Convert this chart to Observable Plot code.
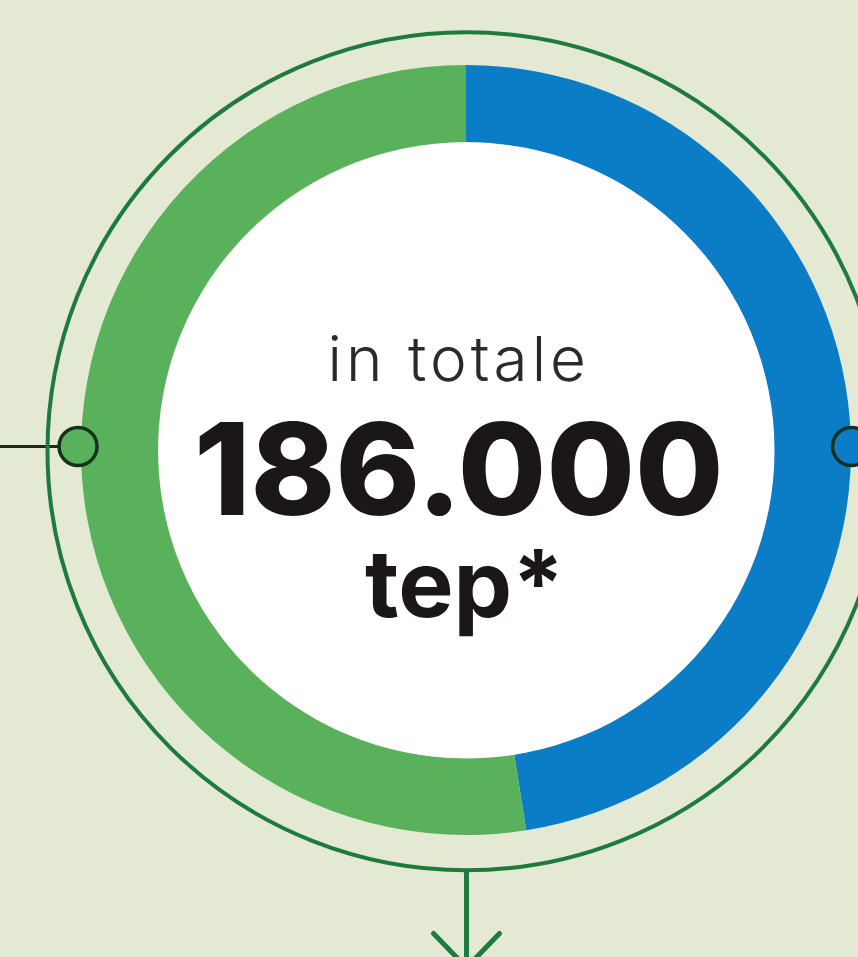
<!DOCTYPE html>
<html>
<head>
<meta charset="utf-8">
<script src="https://cdn.jsdelivr.net/npm/d3@7"></script>
<script src="https://cdn.jsdelivr.net/npm/@observablehq/plot@0.6"></script>
<style>
  html, body { margin: 0; padding: 0; background: #e4e9d3; }
  #chart svg { display: block; }
</style>
</head>
<body>
<div id="chart"></div>
<script>
// ---- data ----
const categories = ["blu", "verde"];
const values = [88350, 97650];           // tep (share of the total)
const colors = ["#0b7cc6", "#59b25b"];
const totalLabel = ["in totale", "186.000", "tep*"];

// ---- layout (units: outer donut radius = 1, center at 0,0) ----
const W = 858, H = 957;
const R = 385;                 // outer radius in px
const cx = 466, cy = 450;      // center in px
const innerFrac = 308 / R;
const ringR = 419;             // thin outer ring, px
const dotR = 19;

const data = categories.map((c, i) => ({category: c, value: values[i], color: colors[i]}));

const donut = (index, scales) => {
  const {x, y} = scales;
  const ox = x(0), oy = y(0);
  const rOuter = x(1) - x(0);
  const pie = d3.pie().sort(null).value(d => d.value).startAngle(0).endAngle(2 * Math.PI);
  const arc = d3.arc().innerRadius(rOuter * innerFrac).outerRadius(rOuter);
  const g = d3.create("svg:g").attr("transform", `translate(${ox},${oy})`);
  g.selectAll("path")
    .data(pie(data))
    .join("path")
    .attr("d", arc)
    .attr("fill", d => d.data.color);
  return g.node();
};

const arrowL = [{u: -0.0857, v: -1.2545}, {u: 0, v: -1.343}];
const arrowR = [{u: 0.0857, v: -1.2545}, {u: 0, v: -1.343}];

const plot = Plot.plot({
  width: W,
  height: H,
  margin: 0,
  style: {background: "#e4e9d3", overflow: "hidden"},
  x: {domain: [-cx / R, (W - cx) / R], range: [0, W], axis: null},
  y: {domain: [-(H - cy) / R, cy / R], range: [H, 0], axis: null},
  marks: [
    // bottom connector + arrow
    Plot.ruleX([0], {y1: -ringR / R, y2: -(H - cy + 20) / R, stroke: "#1f7a3d", strokeWidth: 5}),
    Plot.line(arrowL, {x: "u", y: "v", stroke: "#1f7a3d", strokeWidth: 5}),
    Plot.line(arrowR, {x: "u", y: "v", stroke: "#1f7a3d", strokeWidth: 5}),
    // left connector line
    Plot.ruleY([0.0104], {x1: -cx / R, x2: -1, stroke: "#1c2a1d", strokeWidth: 3}),
    // thin outer ring
    Plot.dot([{u: 0, v: -0.002}], {x: "u", y: "v", r: ringR, fill: "none", stroke: "#1f7a3d", strokeWidth: 4}),
    // donut
    donut,
    // white center
    Plot.dot([{u: 0, v: 0}], {x: "u", y: "v", r: 308, fill: "white"}),
    // connector dots
    Plot.dot([{u: -1.009, v: 0.0104, c: colors[1]}, {u: 1.0, v: 0.0104, c: colors[0]}],
      {x: "u", y: "v", r: dotR, fill: "c", stroke: "#16301b", strokeWidth: 3.5}),
    // center labels
    Plot.text([totalLabel[0]], {x: -0.02, y: 0.2312, text: d => d, fontSize: 62, fontWeight: 300,
      fontFamily: "Inter, Lato, sans-serif", fill: "#2a2a2a", className: "lbl-light"}),
    Plot.text([totalLabel[1]], {x: -0.02, y: -0.0623, text: d => d, fontSize: 128, fontWeight: 800,
      fontFamily: "Inter, Lato, sans-serif", fill: "#1b1617"}),
    Plot.text([totalLabel[2]], {x: -0.005, y: -0.3558, text: d => d, fontSize: 93, fontWeight: 700,
      fontFamily: "Inter, Lato, sans-serif", fill: "#1b1617"})
  ]
});
plot.style.background = "#e4e9d3";
d3.select(plot).selectAll(".lbl-light text").style("letter-spacing", "4px");
document.getElementById("chart").appendChild(plot);
</script>
</body>
</html>
